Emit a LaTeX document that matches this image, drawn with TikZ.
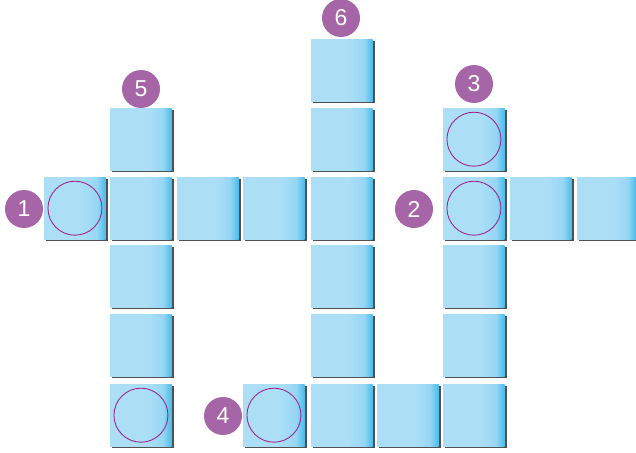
\documentclass[tikz,border=0pt]{standalone}
\usepackage{fontspec}
\setmainfont{Liberation Sans}
\definecolor{sqlight}{RGB}{172,223,246}
\definecolor{sqmid}{RGB}{150,214,244}
\definecolor{sqdark}{RGB}{70,188,236}
\definecolor{sqshadow}{RGB}{80,80,80}
\definecolor{ringpurple}{RGB}{158,40,142}
\definecolor{labpurple}{RGB}{165,101,167}
\pgfdeclarehorizontalshading{sqshade}{100bp}{color(0bp)=(sqlight); color(25bp)=(sqlight); color(55bp)=(sqlight); color(68bp)=(sqmid); color(75bp)=(sqdark); color(100bp)=(sqdark)}
\tikzset{
  sq/.style={anchor=north west, minimum width=61.5pt, minimum height=62pt, inner sep=0pt, shading=sqshade,
    preaction={fill=sqshadow, transform canvas={xshift=2pt,yshift=-2.2pt}}},
  ring/.style={circle, draw=ringpurple, line width=0.9pt, minimum size=54pt, inner sep=0pt},
  lab/.style={circle, fill=labpurple, minimum size=38pt, inner sep=0pt, text=white, font=\fontsize{23}{23}\selectfont}
}
\begin{document}
\begin{tikzpicture}[x=1pt,y=-1pt]
\useasboundingbox (0,0) rectangle (636,452);
% column B
\node[sq] (b1) at (110,108) {};
\node[sq] (b2) at (110,177) {};
\node[sq] (b3) at (110,245) {};
\node[sq] (b4) at (110,314) {};
\node[sq] (b5) at (110,384) {};
% row 2 left
\node[sq] (a2) at (44,177) {};
\node[sq] (c2) at (177,177) {};
\node[sq] (d2) at (243,177) {};
% column E
\node[sq] (e0) at (311,39) {};
\node[sq] (e1) at (311,108) {};
\node[sq] (e2) at (311,177) {};
\node[sq] (e3) at (311,245) {};
\node[sq] (e4) at (311,314) {};
\node[sq] (e5) at (311,384) {};
% bottom row
\node[sq] (d5) at (243,384) {};
\node[sq] (f5) at (377,384) {};
% column G
\node[sq] (g1) at (443,108) {};
\node[sq] (g2) at (443,177) {};
\node[sq] (g3) at (443,245) {};
\node[sq] (g4) at (443,314) {};
\node[sq] (g5) at (443,384) {};
% row 2 right
\node[sq] (h2) at (510,177) {};
\node[sq, minimum width=59pt] (i2) at (577,177) {};
% rings
\node[ring] (ra2) at (a2.center) {};
\node[ring] (rb5) at (b5.center) {};
\node[ring] (rd5) at (d5.center) {};
\node[ring] (rg1) at (g1.center) {};
\node[ring] (rg2) at (g2.center) {};
% labels
\node[lab] (l1) at (24,209) {1};
\node[lab] (l2) at (414,209) {2};
\node[lab] (l3) at (474,84) {3};
\node[lab] (l4) at (223,416) {4};
\node[lab] (l5) at (141,89) {5};
\node[lab] (l6) at (341,18) {6};
\end{tikzpicture}
\end{document}
